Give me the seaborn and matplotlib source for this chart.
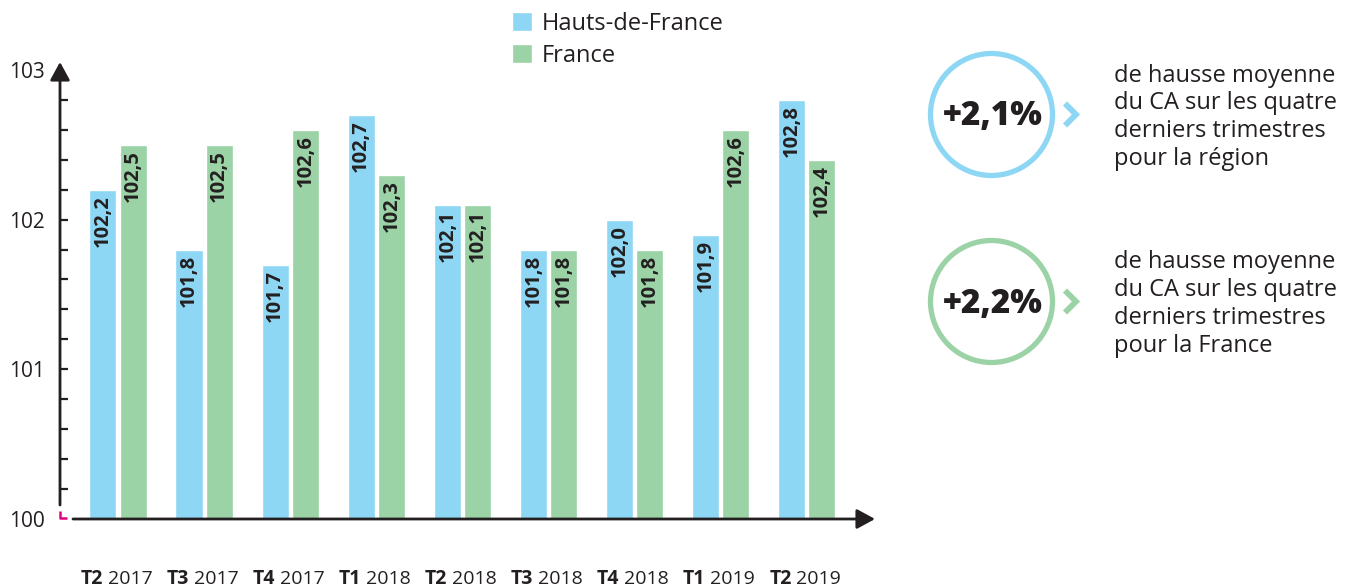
import numpy as np
import pandas as pd
import matplotlib
matplotlib.use("Agg")
import matplotlib.pyplot as plt
from matplotlib.patches import Circle
import seaborn as sns

# ---- data ----
quarters = ["T2", "T3", "T4", "T1", "T2", "T3", "T4", "T1", "T2"]
years = ["2017", "2017", "2017", "2018", "2018", "2018", "2018", "2019", "2019"]
hdf_values = [102.2, 101.8, 101.7, 102.7, 102.1, 101.8, 102.0, 101.9, 102.8]
france_values = [102.5, 102.5, 102.6, 102.3, 102.1, 101.8, 101.8, 102.6, 102.4]
series_names = ["Hauts-de-France", "France"]
y_tick_values = [100, 101, 102, 103]
kpi_values = ["+2,1%", "+2,2%"]
kpi_texts = [
    "de hausse moyenne\ndu CA sur les quatre\nderniers trimestres\npour la région",
    "de hausse moyenne\ndu CA sur les quatre\nderniers trimestres\npour la France",
]

BLUE = "#8DD7F5"
GREEN = "#9BD3A6"
DARK = "#231F20"
PINK = "#E5007D"

sns.set_style("white")
plt.rcParams["font.family"] = ["Open Sans", "DejaVu Sans"]

categories = [f"{q} {y}" for q, y in zip(quarters, years)]
df = pd.DataFrame({
    "periode": categories * 2,
    "zone": [series_names[0]] * len(categories) + [series_names[1]] * len(categories),
    "valeur": hdf_values + france_values,
})
df["periode"] = pd.Categorical(df["periode"], categories=list(dict.fromkeys(categories)), ordered=True)

W, H = 1368, 587
fig = plt.figure(figsize=(W / 100, H / 100), dpi=100)
ax = fig.add_axes([60 / W, 1 - 519 / H, 815 / W, (519 - 62) / H])

sns.barplot(data=df, x="periode", y="valeur", hue="zone", palette=[BLUE, GREEN],
            width=0.70, gap=0.1, ax=ax, legend=True, saturation=1)

px_per_cat = 86.1
ax.set_xlim(-58 / px_per_cat, (875 - 118) / px_per_cat)
ax.set_ylim(100, 100 + 457 / 149.7)

# value labels inside bars
for cont, vals in zip(ax.containers, [hdf_values, france_values]):
    for bar, v in zip(cont, vals):
        xc = bar.get_x() + bar.get_width() / 2
        ax.annotate(f"{v:.1f}".replace(".", ","), xy=(xc, bar.get_height()),
                    xytext=(0, -4), textcoords="offset points", rotation=90,
                    ha="center", va="top", fontsize=14.5, fontweight="bold",
                    color=DARK)

# axes styling
for s in ax.spines.values():
    s.set_visible(False)
ax.set_xlabel("")
ax.set_ylabel("")
ax.set_xticks(range(len(categories)))
ax.set_xticklabels([""] * len(categories))
ax.tick_params(axis="x", length=0)
ax.set_yticks(y_tick_values)
ax.set_yticklabels([str(t) for t in y_tick_values], fontsize=15, color=DARK)
ax.set_yticks(np.round(np.arange(100.2, 102.81, 0.2), 1), minor=True)
ax.yaxis.remove_overlapping_locs = False
ax.tick_params(axis="y", which="major", length=0, pad=11)
ax.tick_params(axis="y", which="minor", direction="in", length=5.5, width=1.6,
               color=DARK, left=True)

arrow_kw = dict(arrowstyle="-|>,head_length=0.55,head_width=0.3", lw=2,
                color=DARK, shrinkA=0, shrinkB=0, mutation_scale=20)
ax.annotate("", xy=(0, 1), xycoords="axes fraction", xytext=(0, 14 / 457),
            textcoords="axes fraction", arrowprops=arrow_kw, annotation_clip=False)
ax.annotate("", xy=(1, 0), xycoords="axes fraction", xytext=(13 / 815, 0),
            textcoords="axes fraction", arrowprops=arrow_kw, annotation_clip=False)
# pink axis-break mark
ax.plot([0, 0, 7 / 815], [8 / 457, 1 / 457, 1 / 457], transform=ax.transAxes,
        color=PINK, lw=1.8, clip_on=False, solid_capstyle="butt")

# x labels: bold quarter + regular year
xt = ax.get_xaxis_transform()
for i, (q, y) in enumerate(zip(quarters, years)):
    ax.annotate(q, xy=(i, 0), xycoords=xt, xytext=(-11, -47), textcoords="offset points",
                ha="right", va="baseline", fontsize=14, fontweight="bold", color=DARK)
    ax.annotate(y, xy=(i, 0), xycoords=xt, xytext=(-7.5, -47), textcoords="offset points",
                ha="left", va="baseline", fontsize=14, color=DARK)

# legend
sns.move_legend(ax, "upper left", bbox_to_anchor=(500 / W, 1 - 0 / H),
                bbox_transform=fig.transFigure, title=None, frameon=False,
                fontsize=17, handlelength=0.85, handleheight=0.85,
                handletextpad=0.4, labelspacing=0.35, borderpad=0)
for t in ax.get_legend().get_texts():
    t.set_color(DARK)

# right-hand KPI panel (overlay in pixel coordinates)
ov = fig.add_axes([0, 0, 1, 1])
ov.set_xlim(0, W)
ov.set_ylim(H, 0)
ov.axis("off")
ov.patch.set_alpha(0)
for (cy, col, kv, txt) in zip([114.5, 301.5], [BLUE, GREEN], kpi_values, kpi_texts):
    ov.add_patch(Circle((991.5, cy), 61, fill=False, edgecolor=col, lw=3.8))
    ov.text(993, cy + 2, kv, ha="center", va="center", fontsize=24,
            fontweight="heavy", color=DARK)
    ov.plot([1065, 1076, 1065], [cy - 11, cy, cy + 11], color=col, lw=4.2,
            solid_capstyle="butt", solid_joinstyle="miter")
    ov.text(1114, cy - 51, txt, ha="left", va="top", fontsize=17,
            color=DARK, linespacing=1.22)

fig.savefig("out.png", dpi=100)
